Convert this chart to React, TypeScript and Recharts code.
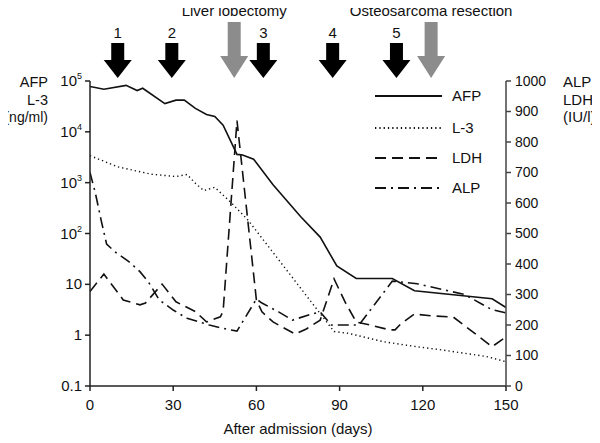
import React from "react";
import { LineChart, Line, XAxis, YAxis, Legend, ReferenceDot } from "recharts";

// AFP, L-3 on the left (log) axis; LDH, ALP on the right (linear) axis
const afpDays = [0, 5, 13, 17, 19, 27, 31, 34, 38, 42, 45, 48, 53, 55, 59, 66, 76, 83, 89, 96, 109, 117, 145, 150];
const afpValues = [78000, 69000, 82000, 65000, 72000, 36000, 42000, 42000, 29000, 22000, 20000, 13500, 3600, 3500, 2900, 910, 213, 85, 23, 13, 13, 7.5, 5.2, 3.5];

const l3Days = [0, 10, 22, 31, 35, 38, 41, 45, 51, 57, 88, 93, 106, 118, 126, 143, 150];
const l3Values = [3400, 2050, 1470, 1320, 1450, 970, 700, 810, 400, 183, 1.18, 1.09, 0.74, 0.59, 0.52, 0.38, 0.3];

const ldhDays = [0, 5, 12, 18, 20, 26, 31, 38, 42, 47, 48, 53, 60, 62, 66, 74, 78, 83, 88, 92, 96, 101, 108, 110, 112, 117, 123, 131, 145, 150];
const ldhValues = [310, 367, 282, 266, 272, 334, 276, 244, 210, 227, 245, 870, 282, 243, 210, 170, 187, 216, 351, 275, 210, 200, 184, 184, 203, 236, 230, 226, 129, 161];

const alpDays = [0, 2, 4, 6, 9, 14, 18, 21, 25, 30, 35, 43, 48, 53, 60, 62, 68, 73, 80, 83, 87, 97, 109, 118, 135, 145, 150];
const alpValues = [700, 630, 544, 465, 440, 408, 375, 342, 282, 249, 222, 200, 189, 180, 285, 272, 243, 216, 236, 243, 200, 200, 344, 335, 300, 250, 240];

const dayTicks = [0, 30, 60, 90, 120, 150];
const leftTicks = [0.1, 1, 10, 100, 1000, 10000, 100000];
const rightTicks = [0, 100, 200, 300, 400, 500, 600, 700, 800, 900, 1000];

const treatmentDays = [10, 29.5, 62.5, 87.5, 110.5];
const treatmentLabels = ["1", "2", "3", "4", "5"];
const surgeryDays = [52, 123];
const surgeryLabels = ["Liver lobectomy", "Osteosarcoma resection"];

const seriesNames = ["AFP", "L-3", "LDH", "ALP"];

const FONT = '"Liberation Sans", Arial, Helvetica, sans-serif';
const INK = "#111";

const toSeries = (days: number[], values: number[]) => days.map((day, i) => ({ day, v: values[i] }));
const afpData = toSeries(afpDays, afpValues);
const l3Data = toSeries(l3Days, l3Values);
const ldhData = toSeries(ldhDays, ldhValues);
const alpData = toSeries(alpDays, alpValues);

const STYLES: Record<string, { dash?: string; width: number }> = {
  AFP: { width: 1.6 },
  "L-3": { dash: "1.3 3", width: 1.4 },
  LDH: { dash: "11 6", width: 1.6 },
  ALP: { dash: "11 5 2 5", width: 1.6 },
};

function LogTick(props: any) {
  const { x, y, payload } = props;
  const v = payload.value;
  const exp = Math.round(Math.log10(v));
  return (
    <text x={x} y={y} dy={5} textAnchor="end" fontSize={15} fontFamily={FONT} fill={INK}>
      {v >= 100 ? (
        <>
          <tspan>10</tspan>
          <tspan dy={-7} fontSize={9}>{exp}</tspan>
        </>
      ) : (
        String(v)
      )}
    </text>
  );
}

const arrowShape = (label: string, grey: boolean) => (props: any) => {
  const { cx, cy } = props;
  const tip = cy - 3;
  const headTop = grey ? cy - 25 : cy - 21;
  const shaftTop = grey ? cy - 59 : cy - 38;
  const hw = 14;
  const sw = 6.5;
  const pts = [
    [cx - sw, shaftTop], [cx + sw, shaftTop], [cx + sw, headTop], [cx + hw, headTop],
    [cx, tip], [cx - hw, headTop], [cx - sw, headTop],
  ].map((p) => p.join(",")).join(" ");
  return (
    <g>
      <polygon points={pts} fill={grey ? "#8c8c8c" : "#000"} />
      <text x={cx} y={grey ? cy - 65 : cy - 43} textAnchor="middle" fontSize={15} fontFamily={FONT} fill={INK}>
        {label}
      </text>
    </g>
  );
};

function LegendBox() {
  const rows = [13, 45, 75, 105];
  return (
    <svg width={140} height={125}>
      {seriesNames.map((name, i) => (
        <g key={name}>
          <line x1={7} x2={74} y1={rows[i]} y2={rows[i]} stroke={INK}
            strokeWidth={STYLES[name].width + 0.4} strokeDasharray={STYLES[name].dash} />
          <text x={84} y={rows[i] + 5} fontSize={15} fontFamily={FONT} fill={INK}>{name}</text>
        </g>
      ))}
    </svg>
  );
}

const axisStroke = { stroke: "#222", strokeWidth: 1.5 };

export default function App() {
  return (
    <div style={{ position: "relative", width: 592, height: 435, fontFamily: FONT }}>
      <style>{`.recharts-surface, .titles { overflow: visible; }`}</style>
      <LineChart width={592} height={435} margin={{ top: 73, right: 0, bottom: 27, left: 0 }}>
        <XAxis
          xAxisId="x"
          type="number"
          dataKey="day"
          domain={[0, 150]}
          ticks={dayTicks}
          allowDataOverflow
          height={30}
          tickSize={5}
          tickMargin={8}
          axisLine={axisStroke}
          tickLine={axisStroke}
          tick={{ fill: INK, fontSize: 15, fontFamily: FONT }}
        />
        <YAxis
          yAxisId="left"
          orientation="left"
          type="number"
          scale="log"
          domain={[0.1, 100000]}
          ticks={leftTicks}
          allowDataOverflow
          width={82}
          tickSize={5}
          tickMargin={3}
          axisLine={axisStroke}
          tickLine={axisStroke}
          tick={<LogTick />}
        />
        <YAxis
          yAxisId="right"
          orientation="right"
          type="number"
          domain={[0, 1000]}
          ticks={rightTicks}
          allowDataOverflow
          width={94}
          tickSize={5}
          tickMargin={4}
          axisLine={{ stroke: "#444", strokeWidth: 1.5 }}
          tickLine={{ stroke: "#444", strokeWidth: 1.5 }}
          tick={{ fill: INK, fontSize: 14, fontFamily: FONT }}
        />
        <Line xAxisId="x" yAxisId="left" data={afpData} dataKey="v" name="AFP" stroke={INK}
          strokeWidth={STYLES.AFP.width} dot={false} isAnimationActive={false} />
        <Line xAxisId="x" yAxisId="left" data={l3Data} dataKey="v" name="L-3" stroke={INK}
          strokeWidth={STYLES["L-3"].width} strokeDasharray={STYLES["L-3"].dash} dot={false} isAnimationActive={false} />
        <Line xAxisId="x" yAxisId="right" data={ldhData} dataKey="v" name="LDH" stroke={INK}
          strokeWidth={STYLES.LDH.width} strokeDasharray={STYLES.LDH.dash} dot={false} isAnimationActive={false} />
        <Line xAxisId="x" yAxisId="right" data={alpData} dataKey="v" name="ALP" stroke={INK}
          strokeWidth={STYLES.ALP.width} strokeDasharray={STYLES.ALP.dash} dot={false} isAnimationActive={false} />
        {treatmentDays.map((d, i) => (
          <ReferenceDot key={"t" + i} xAxisId="x" yAxisId="left" x={d} y={100000} r={0}
            ifOverflow="visible" shape={arrowShape(treatmentLabels[i], false)} />
        ))}
        {surgeryDays.map((d, i) => (
          <ReferenceDot key={"s" + i} xAxisId="x" yAxisId="left" x={d} y={100000} r={0}
            ifOverflow="visible" shape={arrowShape(surgeryLabels[i], true)} />
        ))}
        <Legend
          layout="vertical"
          align="center"
          verticalAlign="middle"
          content={() => <LegendBox />}
          wrapperStyle={{ left: 360, top: 75, width: 140, height: 125 }}
        />
      </LineChart>
      <svg className="titles" width={592} height={435} style={{ position: "absolute", left: 0, top: 0, pointerEvents: "none" }}>
        <g fontFamily={FONT} fill={INK}>
          <text x={40} y={79} textAnchor="end" fontSize={14.5}>AFP</text>
          <text x={40} y={97} textAnchor="end" fontSize={14.5}>L-3</text>
          <text x={40} y={114} textAnchor="end" fontSize={14}>(ng/ml)</text>
          <text x={555} y={79} fontSize={15}>ALP</text>
          <text x={555} y={97} fontSize={15}>LDH</text>
          <text x={555} y={114} fontSize={15}>(IU/l)</text>
          <text x={290} y={426} textAnchor="middle" fontSize={15}>After admission (days)</text>
        </g>
      </svg>
    </div>
  );
}
